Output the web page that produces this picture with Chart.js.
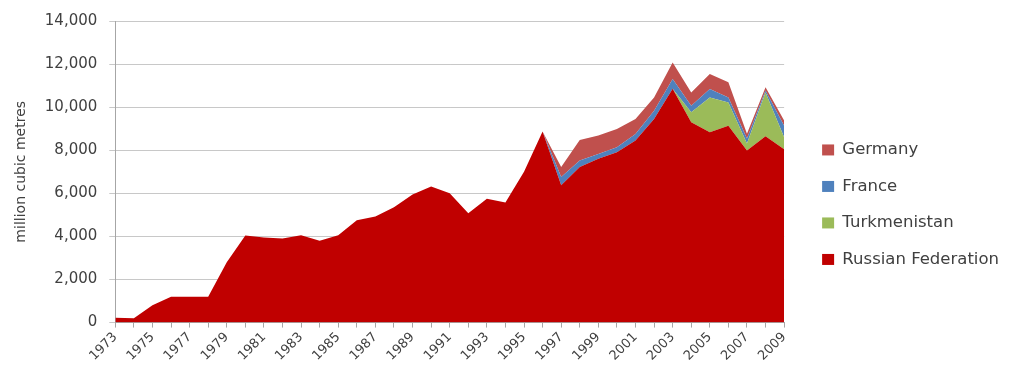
<!DOCTYPE html>
<html>
<head>
<meta charset="utf-8">
<title>Gas imports by source</title>
<script src="https://cdn.jsdelivr.net/npm/chart.js@4.4.1/dist/chart.umd.min.js"></script>
<style>
  html, body { margin: 0; padding: 0; background: #fff; }
  #wrap { width: 1009px; height: 383px; }
</style>
</head>
<body>
<div id="wrap"><canvas id="gasChart" width="1009" height="383"></canvas></div>
<script>
// yearly volumes, million cubic metres
const years = ['1973', '1974', '1975', '1976', '1977', '1978', '1979', '1980', '1981', '1982',
  '1983', '1984', '1985', '1986', '1987', '1988', '1989', '1990', '1991', '1992',
  '1993', '1994', '1995', '1996', '1997', '1998', '1999', '2000', '2001', '2002',
  '2003', '2004', '2005', '2006', '2007', '2008', '2009'];

const russia = [220, 200, 800, 1200, 1200, 1200, 2800, 4040, 3950, 3900,
  4050, 3800, 4050, 4750, 4930, 5350, 5950, 6320, 6000, 5070,
  5750, 5580, 7000, 8870, 6380, 7220, 7600, 7910, 8450, 9450,
  10850, 9300, 8840, 9140, 7990, 8650, 8050];

const turkmenistan = [0, 0, 0, 0, 0, 0, 0, 0, 0, 0,
  0, 0, 0, 0, 0, 0, 0, 0, 0, 0,
  0, 0, 0, 0, 0, 0, 0, 0, 0, 0,
  0, 460, 1610, 1080, 320, 2030, 550];

const france = [0, 0, 0, 0, 0, 0, 0, 0, 0, 0,
  0, 0, 0, 0, 0, 0, 0, 0, 0, 0,
  0, 0, 0, 0, 380, 300, 230, 230, 310, 380,
  460, 310, 390, 230, 240, 90, 540];

const germany = [0, 0, 0, 0, 0, 0, 0, 0, 0, 0,
  0, 0, 0, 0, 0, 0, 0, 0, 0, 0,
  0, 0, 0, 0, 460, 960, 850, 850, 690, 620,
  760, 610, 700, 710, 220, 150, 240];

const yTicks = [0, 2000, 4000, 6000, 8000, 10000, 12000, 14000];

Chart.defaults.font.family = "'DejaVu Sans', sans-serif";
Chart.defaults.color = '#404040';

function area(label, data, color, fill) {
  return {
    label: label,
    data: data,
    backgroundColor: color,
    borderColor: color,
    borderWidth: 0,
    pointRadius: 0,
    tension: 0,
    fill: fill
  };
}

const ctx = document.getElementById('gasChart').getContext('2d');
const gasChart = new Chart(ctx, {
  type: 'line',
  data: {
    labels: years,
    datasets: [
      area('Russian Federation', russia, '#c00000', 'origin'),
      area('Turkmenistan', turkmenistan, '#9bbb59', '-1'),
      area('France', france, '#4f81bd', '-1'),
      area('Germany', germany, '#c0504d', '-1')
    ]
  },
  options: {
    responsive: false,
    animation: false,
    layout: { padding: { top: 11, left: 4, right: 0, bottom: 17 } },
    plugins: {
      tooltip: { enabled: false },
      legend: {
        position: 'right',
        reverse: true,
        // blank title only pushes the entries down a little
        title: { display: true, text: '', font: { size: 12 }, padding: { top: 9, bottom: 9 } },
        labels: {
          boxWidth: 12,
          boxHeight: 11,
          padding: 20,
          font: { size: 16.5 },
          color: '#404040'
        }
      }
    },
    scales: {
      x: {
        grid: { drawOnChartArea: false, drawTicks: true, tickLength: 5, color: '#a6a6a6' },
        border: { color: '#a6a6a6' },
        ticks: {
          autoSkip: false,
          maxRotation: 45,
          minRotation: 45,
          padding: 2,
          font: { size: 13 },
          callback: function (value, index) {
            return index % 2 === 0 ? this.getLabelForValue(value) : '';
          }
        }
      },
      y: {
        stacked: true,
        min: yTicks[0],
        max: yTicks[yTicks.length - 1],
        afterBuildTicks: function (scale) {
          scale.ticks = yTicks.map(v => ({ value: v }));
        },
        grid: { color: '#c8c8c8', tickLength: 6 },
        border: { color: '#a6a6a6' },
        ticks: { padding: 12, font: { size: 15 } },
        title: {
          display: true,
          text: 'million cubic metres',
          font: { size: 14 },
          padding: { top: 9, bottom: 3 }
        }
      },
      // hidden right-hand scale, keeps a gap before the legend
      gap: {
        position: 'right',
        display: false,
        afterFit: function (scale) { scale.width = 18; }
      }
    }
  }
});
</script>
</body>
</html>
